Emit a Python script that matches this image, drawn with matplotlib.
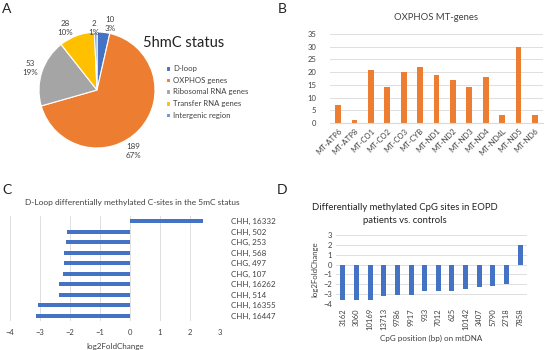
import numpy as np
import matplotlib
matplotlib.use('Agg')
import matplotlib.pyplot as plt

plt.rcParams['font.family'] = ['Lato', 'DejaVu Sans']

W, H = 550, 350

# panel A
pie_labels = ['D-loop', 'OXPHOS genes', 'Ribosomal RNA genes', 'Transfer RNA genes', 'Intergenic region']
pie_values = [10, 189, 53, 28, 2]
pie_pct = ['3%', '67%', '19%', '10%', '1%']
pie_colors = ['#4472C4', '#ED7D31', '#A5A5A5', '#FFC000', '#5B9BD5']

# panel B
genes = ['MT-ATP6', 'MT-ATP8', 'MT-CO1', 'MT-CO2', 'MT-CO3', 'MT-CYB', 'MT-ND1',
         'MT-ND2', 'MT-ND3', 'MT-ND4', 'MT-ND4L', 'MT-ND5', 'MT-ND6']
gene_counts = [7, 1, 21, 14, 20, 22, 19, 17, 14, 18, 3, 30, 3]

# panel C
csites = ['CHH, 16447', 'CHH, 16355', 'CHH, 514', 'CHH, 16262', 'CHG, 107',
          'CHG, 497', 'CHH, 568', 'CHG, 253', 'CHH, 502', 'CHH, 16332']
csite_lfc = [-3.12, -3.08, -2.38, -2.38, -2.25, -2.21, -2.19, -2.15, -2.11, 2.44]

# panel D
cpg_pos = ['3162', '3060', '10169', '13713', '9786', '9917', '933', '7012',
           '625', '10142', '3407', '5790', '2718', '7858']
cpg_lfc = [-3.6, -3.6, -3.55, -3.2, -3.1, -3.05, -2.7, -2.65, -2.65, -2.5,
           -2.3, -2.15, -1.95, 2.0]

TXT = '#404040'
GRID = '#D9D9D9'


def px_axes(fig, left, top, right, bottom):
    return fig.add_axes([left / W, 1 - bottom / H, (right - left) / W, (bottom - top) / H])


def clean(ax):
    for s in ax.spines.values():
        s.set_visible(False)
    ax.tick_params(length=0, colors=TXT, labelsize=5.5)


fig = plt.figure(figsize=(W / 100, H / 100), dpi=100)

for letter, x, y in [('A', 7, 9), ('B', 282, 9), ('C', 7, 190), ('D', 282, 190)]:
    fig.text(x / W, 1 - y / H, letter, fontsize=10, color='#222222', ha='center', va='center')

# A: pie
ax = px_axes(fig, 39, 32, 155, 148)
wedges, _ = ax.pie(pie_values, colors=pie_colors, startangle=90, counterclock=False,
                   wedgeprops=dict(edgecolor='white', linewidth=0.8))
ax.set_xlim(-1, 1)
ax.set_ylim(-1, 1)
label_pos = [(0.22, 1.14), (0.62, -1.05), (-1.15, 0.38), (-0.55, 1.07), (-0.05, 1.07)]
for v, p, (lx, ly) in zip(pie_values, pie_pct, label_pos):
    ax.text(lx, ly, f'{v}\n{p}', ha='center', va='center', fontsize=5.8, color=TXT,
            linespacing=1.3)
fig.text(184 / W, 1 - 43 / H, '5hmC status', fontsize=10.5, color='#222222', ha='center', va='center')
leg = fig.legend(wedges, pie_labels, loc='upper left', bbox_to_anchor=(166 / W, 1 - 65 / H),
                 frameon=False, fontsize=5.6, handlelength=0.55, handleheight=0.55,
                 handletextpad=0.4, labelspacing=0.6, borderaxespad=0, borderpad=0)
for t in leg.get_texts():
    t.set_color(TXT)

# B: OXPHOS bars
ax = px_axes(fig, 330, 34, 543, 123)
x = np.arange(len(genes))
ax.bar(x, gene_counts, width=0.35, color='#ED7D31', zorder=2)
ax.set_ylim(0, 35)
ax.set_xlim(-0.5, len(genes) - 0.5)
ax.set_yticks(range(0, 36, 5))
ax.yaxis.grid(True, color=GRID, linewidth=0.6)
ax.set_axisbelow(True)
ax.set_xticks(x)
ax.set_xticklabels(genes, rotation=45, ha='right', rotation_mode='anchor')
clean(ax)
ax.spines['bottom'].set_visible(True)
ax.spines['bottom'].set_color(GRID)
ax.tick_params(axis='x', pad=3)
ax.tick_params(axis='y', pad=10)
ax.set_title('OXPHOS MT-genes', fontsize=6.8, color=TXT, pad=10)

# C: D-loop horizontal bars
ax = px_axes(fig, 10, 216, 220, 321)
y = np.arange(len(csites))
ax.barh(y, csite_lfc, height=0.4, color='#4472C4', zorder=2)
ax.set_xlim(-4, 3)
ax.set_ylim(-0.5, len(csites) - 0.5)
ax.set_xticks(range(-4, 4))
ax.xaxis.grid(True, color=GRID, linewidth=0.6)
ax.set_axisbelow(True)
ax.set_yticks(y)
ax.set_yticklabels(csites)
ax.yaxis.tick_right()
clean(ax)
ax.tick_params(axis='y', pad=8, labelsize=5.8)
ax.tick_params(axis='x', pad=6)
ax.set_xlabel('log2FoldChange', fontsize=5.8, color=TXT, labelpad=5)
fig.text(132 / W, 1 - 203 / H, 'D-Loop differentially methylated C-sites in the 5mC status',
         fontsize=6, color=TXT, ha='center', va='center')

# D: CpG sites
ax = px_axes(fig, 336, 235, 527, 304)
x = np.arange(len(cpg_pos))
ax.bar(x, cpg_lfc, width=0.37, color='#4472C4', zorder=2)
ax.set_ylim(-4, 3)
ax.set_xlim(-0.5, len(cpg_pos) - 0.5)
ax.set_yticks(range(-4, 4))
ax.yaxis.grid(True, color=GRID, linewidth=0.6)
ax.set_axisbelow(True)
ax.set_xticks(x)
ax.set_xticklabels(cpg_pos, rotation=90, va='top', ha='center')
clean(ax)
ax.tick_params(axis='x', pad=3, labelsize=5.5)
ax.tick_params(axis='y', pad=3, labelsize=5.5)
ax.set_ylabel('log2FoldChange', fontsize=5.6, color=TXT, labelpad=3)
ax.set_xlabel('CpG position (bp) on mtDNA', fontsize=5.8, color=TXT, labelpad=3)
fig.text(405 / W, 1 - 214 / H, 'Differentially methylated CpG sites in EOPD\npatients vs. controls',
         fontsize=6.8, color='#222222', ha='center', va='center', linespacing=1.5)

fig.savefig('out.png', dpi=100)
